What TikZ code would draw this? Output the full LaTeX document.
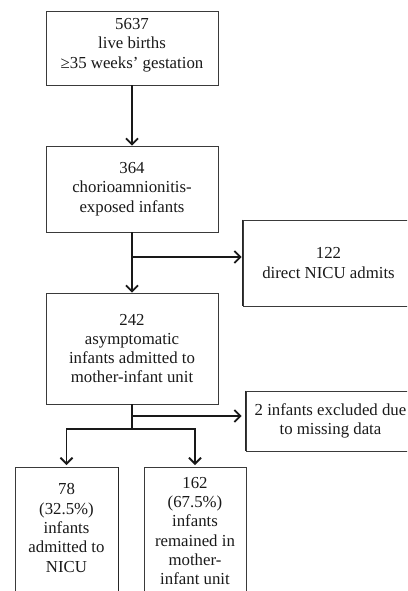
\documentclass[tikz,border=0pt]{standalone}
\usepackage{fontspec}
\setmainfont{Liberation Serif}
\usetikzlibrary{arrows.meta}
\definecolor{boxgray}{HTML}{3A3A3A}
\begin{document}
\begin{tikzpicture}[x=1pt,y=-1pt,
  box/.style={draw=boxgray, line width=0.9pt, align=center, inner sep=0pt,
    font=\fontsize{16.8}{19.3}\selectfont, text=black!90},
  txt/.style={align=center, inner sep=0pt, font=\fontsize{16.8}{19.3}\selectfont, text=black!90},
  flow/.style={line width=1.8pt, draw=black!90, -{Straight Barb[length=6pt,width=12pt]}},
  flowtwo/.style={line width=1.8pt, draw=black!90, {Straight Barb[length=6pt,width=12pt]}-{Straight Barb[length=6pt,width=12pt]}},
  link/.style={line width=1.8pt, draw=black!90},
  edge/.style={line width=1.6pt, draw=black!85}]
\clip (0,0) rectangle (407,591);
\node[box, minimum width=172pt, minimum height=74pt] (b1) at (132,48) {};
\node[txt] (t1) at (132,45) {5637\\live births\\≥35 weeks’ gestation};
\node[box, minimum width=172pt, minimum height=86pt] (b2) at (132,189) {364\\chorioamnionitis-\\exposed infants};
\node[box, minimum width=172pt, minimum height=111pt] (b3) at (132,348.5) {242\\asymptomatic\\infants admitted to\\mother-infant unit};
\node[box, minimum width=171pt, minimum height=86pt] (nicu) at (328.5,263) {122\\direct NICU admits};
\node[box, minimum width=169pt, minimum height=60pt] (excl) at (330.5,421) {2 infants excluded due\\to missing data};
\node[box, minimum width=103pt, minimum height=150pt, anchor=north] (b78) at (66.5,467) {};
\node[box, minimum width=102pt, minimum height=150pt, anchor=north] (b162) at (195,467) {};
\node[txt] (t78) at (66.5,528) {78\\(32.5\%)\\infants\\admitted to\\NICU};
\node[txt] (t162) at (195,531) {162\\(67.5\%)\\infants\\remained in\\mother-\\infant unit};
\draw[edge] (nicu.north west) -- (nicu.south west);
\draw[edge] (excl.north west) -- (excl.south west);
\draw[edge] (b78.north east) -- (b78.south east);
% connectors
\coordinate (j1) at (132,257);
\coordinate (j2) at (132,416);
\coordinate (j3) at (132,429);
\coordinate (l) at (b78.north |- j3);
\coordinate (r) at (b162.north |- j3);
\draw[flow] (b1) -- (b2);
\draw[flow] (b2) -- (b3);
\draw[flow, shorten >=1pt] (j1) -- (j1 -| nicu.west);
\draw[link] (b3.south) -- (j3);
\draw[flow, shorten >=4pt] (j2) -- (j2 -| excl.west);
\draw[flowtwo, shorten <=2pt, shorten >=2pt] (b78.north) -- (l) -- (r) -- (b162.north);
\end{tikzpicture}
\end{document}
